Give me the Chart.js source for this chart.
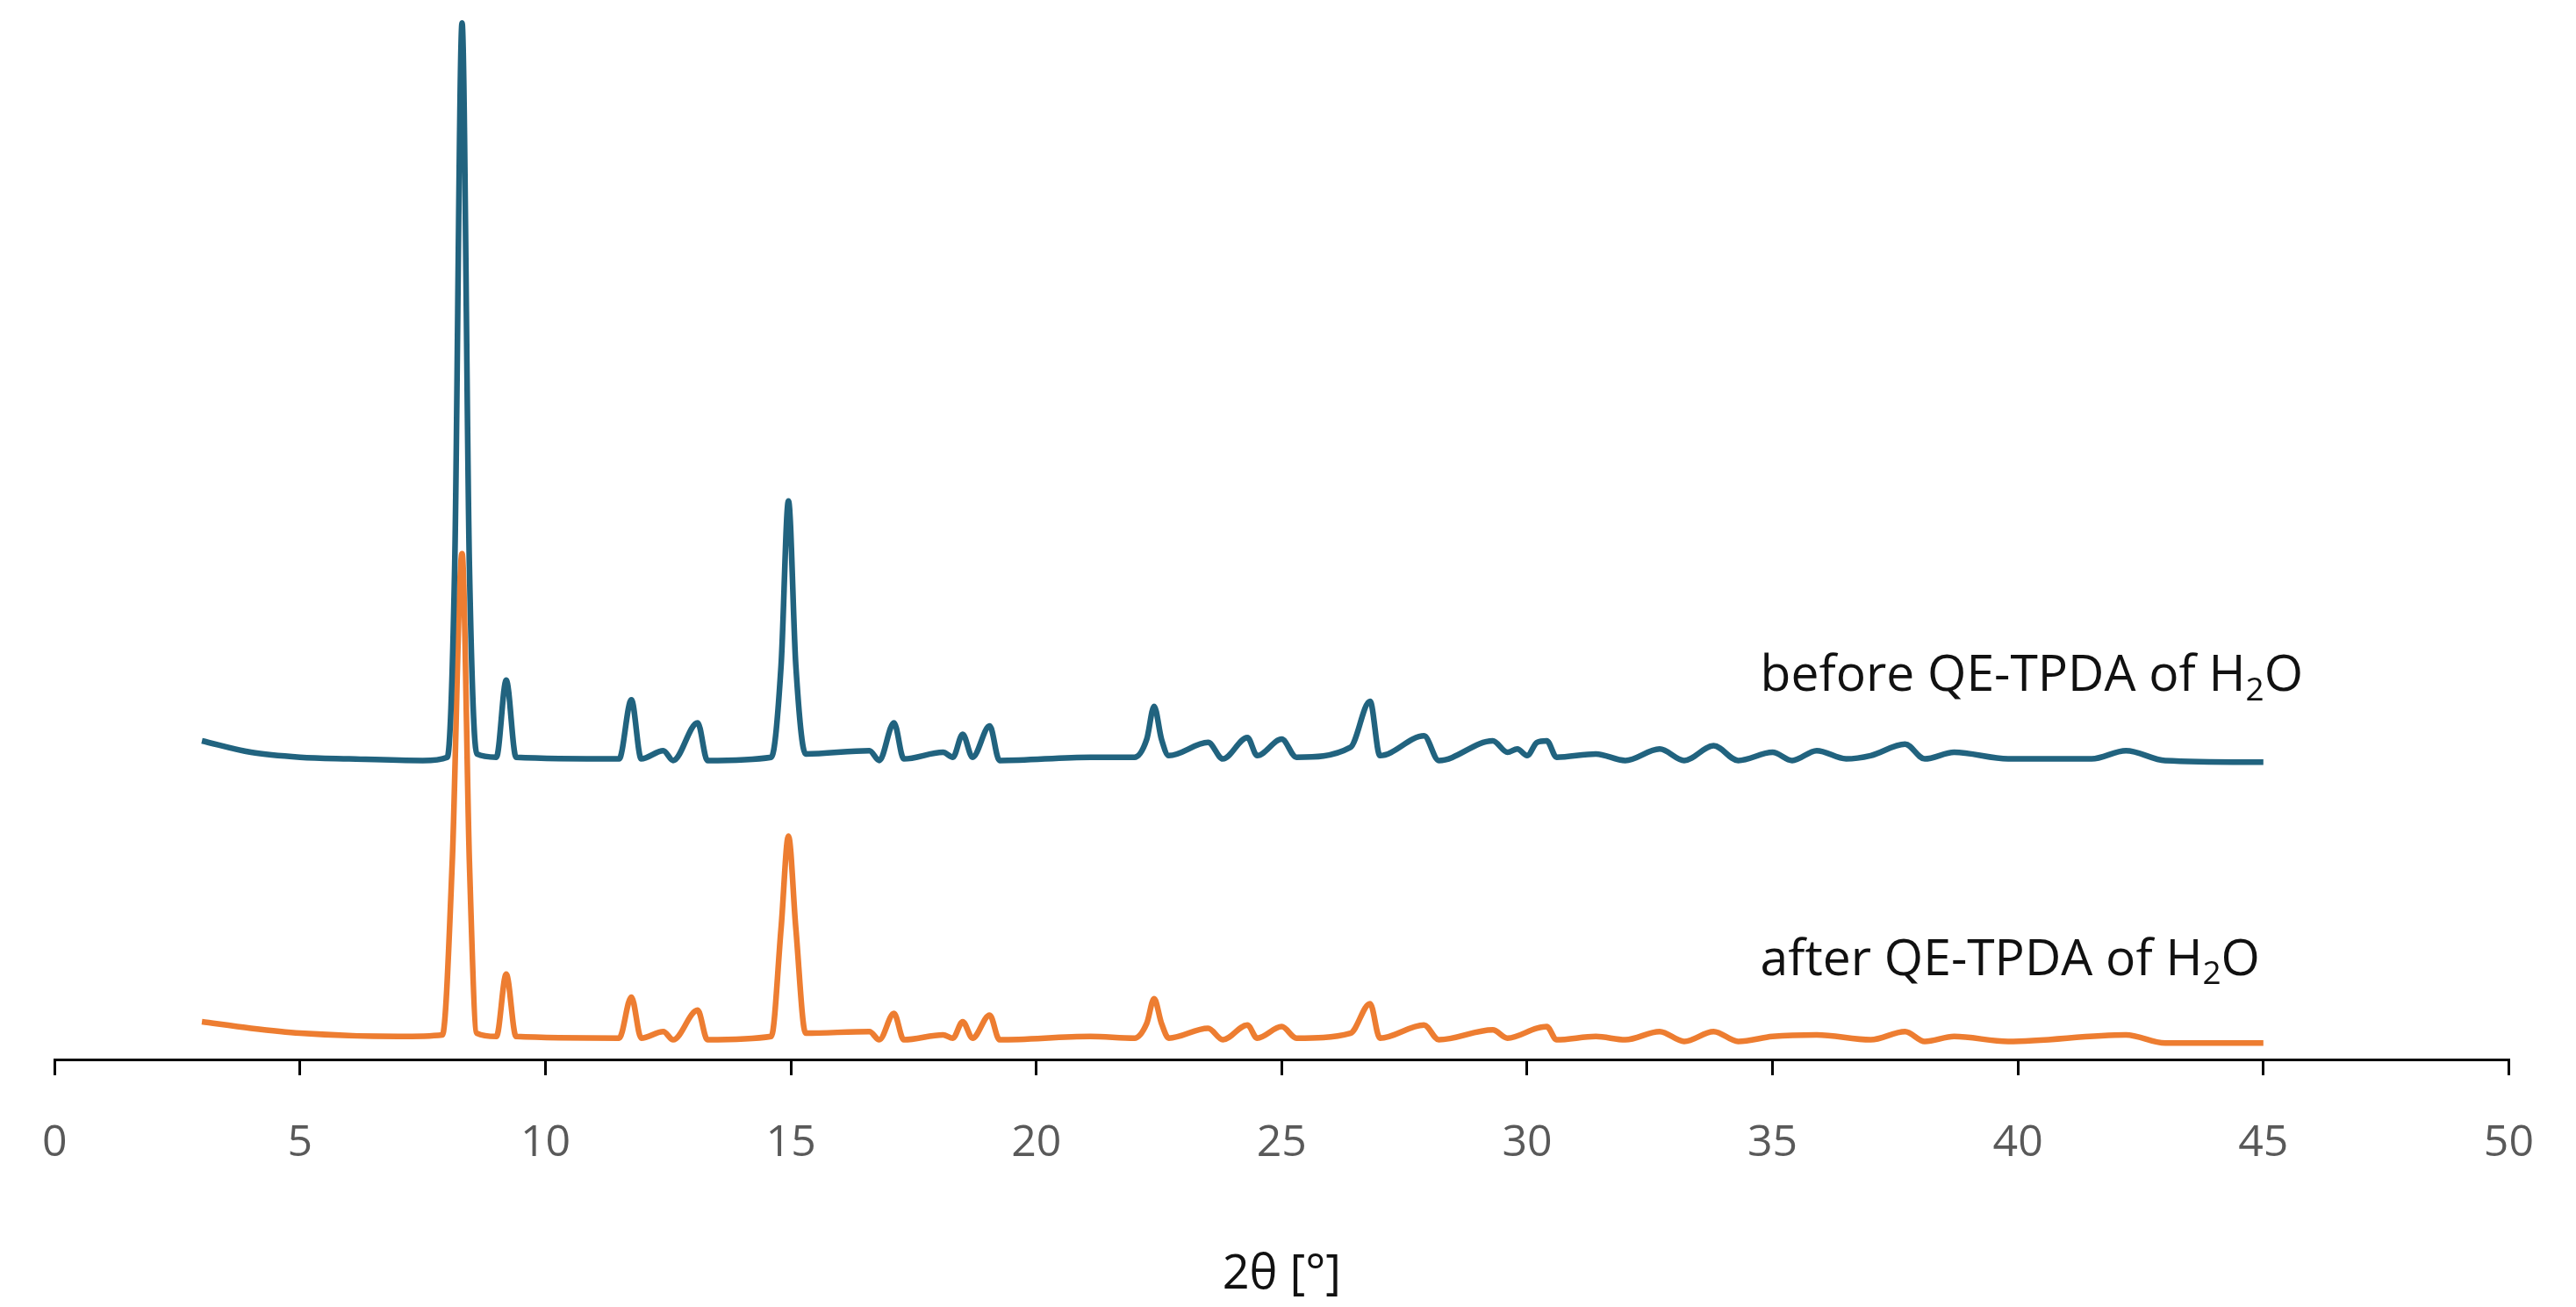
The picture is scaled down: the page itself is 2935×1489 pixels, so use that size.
<!DOCTYPE html>
<html>
<head>
<meta charset="utf-8">
<script src="https://cdn.jsdelivr.net/npm/chart.js@4.4.0/dist/chart.umd.min.js"></script>
<style>
  html, body { margin: 0; padding: 0; background: #fff; }
  #wrap { width: 2935px; height: 1489px; }
</style>
</head>
<body>
<div id="wrap"><canvas id="chart"></canvas></div>
<script>
// 2θ positions and offset intensities
const beforeX = [3, 4, 5, 6, 7.5, 8.0, 8.15, 8.3, 8.45, 8.6, 9.0, 9.2, 9.4, 11.5, 11.75, 11.95, 12.4, 12.6, 13.1, 13.3,
  14.6, 14.8, 14.95, 15.1, 15.3, 16.6, 16.8, 17.1, 17.3, 18.1, 18.3, 18.5, 18.7, 19.05, 19.25, 21.1, 22.0, 22.25, 22.4, 22.55, 22.7,
  23.5, 23.8, 24.3, 24.5, 25.0, 25.3, 26.4, 26.8, 27.0, 27.9, 28.2, 29.3, 29.6, 29.8, 30.0, 30.2, 30.4, 30.6, 31.4, 32.0,
  32.7, 33.2, 33.8, 34.3, 35.0, 35.4, 35.9, 36.5, 37.0, 37.7, 38.1, 38.7, 39.8, 41.5, 42.2, 43.0, 45];
const beforeY = [194, 187, 184, 183, 182, 184, 300, 631, 300, 186, 184, 231, 184, 183, 219, 183, 188, 182, 205, 182,
  184, 240, 340, 240, 186, 188, 182, 205, 183, 187, 184, 198, 184, 203, 182, 184, 184, 195, 215, 195, 185,
  193, 183, 196, 185, 195, 184, 190, 218, 185, 197, 182, 194, 187, 189, 185, 193, 194, 184, 186, 182,
  189, 182, 191, 182, 187, 182, 188, 183, 185, 192, 183, 187, 183, 183, 188, 182, 181];

const afterX = [3, 4, 5, 7, 7.9, 8.1, 8.3, 8.45, 8.6, 9.0, 9.2, 9.4, 11.5, 11.75, 11.95, 12.4, 12.6, 13.1, 13.3,
  14.6, 14.8, 14.95, 15.1, 15.3, 16.6, 16.8, 17.1, 17.3, 18.1, 18.3, 18.5, 18.7, 19.05, 19.25, 21.1, 22.0, 22.25, 22.4, 22.55, 22.7,
  23.5, 23.8, 24.3, 24.5, 25.0, 25.3, 26.4, 26.8, 27.0, 27.9, 28.2, 29.3, 29.6, 30.2, 30.4, 30.6, 31.4, 32.0,
  32.7, 33.2, 33.8, 34.3, 35.0, 35.9, 37.0, 37.7, 38.1, 38.7, 39.8, 42.2, 43.0, 45];
const afterY = [23, 19, 16, 14, 15, 120, 308, 120, 16, 14, 52, 14, 13, 38, 13, 17, 12, 30, 12,
  14, 80, 136, 80, 16, 17, 12, 28, 12, 15, 13, 23, 13, 27, 12, 14, 13, 22, 37, 22, 13,
  19, 12, 21, 13, 20, 13, 16, 34, 13, 21, 12, 18, 13, 19, 20, 12, 14, 12,
  17, 11, 17, 11, 14, 15, 12, 17, 11, 14, 11, 15, 10, 10];

const xTicks = [0, 5, 10, 15, 20, 25, 30, 35, 40, 45, 50];
const seriesLabels = ["before QE-TPDA of H", "after QE-TPDA of H"];

const toPoints = (xs, ys) => xs.map((x, i) => ({ x: x, y: ys[i] }));

// series labels with a subscript 2, anchored in data coordinates
const labelPlugin = {
  id: "seriesLabels",
  afterDatasetsDraw(chart) {
    const { ctx, scales } = chart;
    const spots = [[34.75, 233], [34.75, 60]];
    ctx.save();
    ctx.fillStyle = "#111";
    ctx.textBaseline = "middle";
    seriesLabels.forEach((txt, i) => {
      let x = scales.x.getPixelForValue(spots[i][0]);
      const y = scales.y.getPixelForValue(spots[i][1]);
      ctx.font = "57px 'Open Sans'";
      ctx.fillText(txt, x, y);
      x += ctx.measureText(txt).width;
      ctx.font = "37px 'Open Sans'";
      ctx.fillText("2", x, y + 16);
      x += ctx.measureText("2").width;
      ctx.font = "57px 'Open Sans'";
      ctx.fillText("O", x, y);
    });
    ctx.restore();
  }
};

new Chart(document.getElementById("chart"), {
  type: "line",
  data: {
    datasets: [
      { data: toPoints(beforeX, beforeY), borderColor: "#21637f", borderWidth: 6.5, pointRadius: 0, cubicInterpolationMode: "monotone" },
      { data: toPoints(afterX, afterY), borderColor: "#ed7d31", borderWidth: 6.5, pointRadius: 0, cubicInterpolationMode: "monotone" }
    ]
  },
  options: {
    responsive: true,
    maintainAspectRatio: false,
    animation: false,
    layout: { padding: { left: 18, right: 47, top: 0, bottom: 0 } },
    plugins: { legend: { display: false }, tooltip: { enabled: false } },
    scales: {
      x: {
        type: "linear",
        min: 0,
        max: 50,
        afterBuildTicks(scale) { scale.ticks = xTicks.map(v => ({ value: v })); },
        afterFit(scale) { scale.height = 282; },
        ticks: { color: "#595959", font: { size: 50, family: "'Open Sans'" }, padding: 48 },
        grid: { drawOnChartArea: false, color: "#000", tickLength: 18, lineWidth: 3 },
        border: { color: "#000", width: 3 },
        title: { display: true, text: "2θ [°]", color: "#111", font: { size: 54, family: "'Open Sans'" }, padding: { top: 52 } }
      },
      y: { min: 0, max: 645, display: false }
    }
  },
  plugins: [labelPlugin]
});
</script>
</body>
</html>
